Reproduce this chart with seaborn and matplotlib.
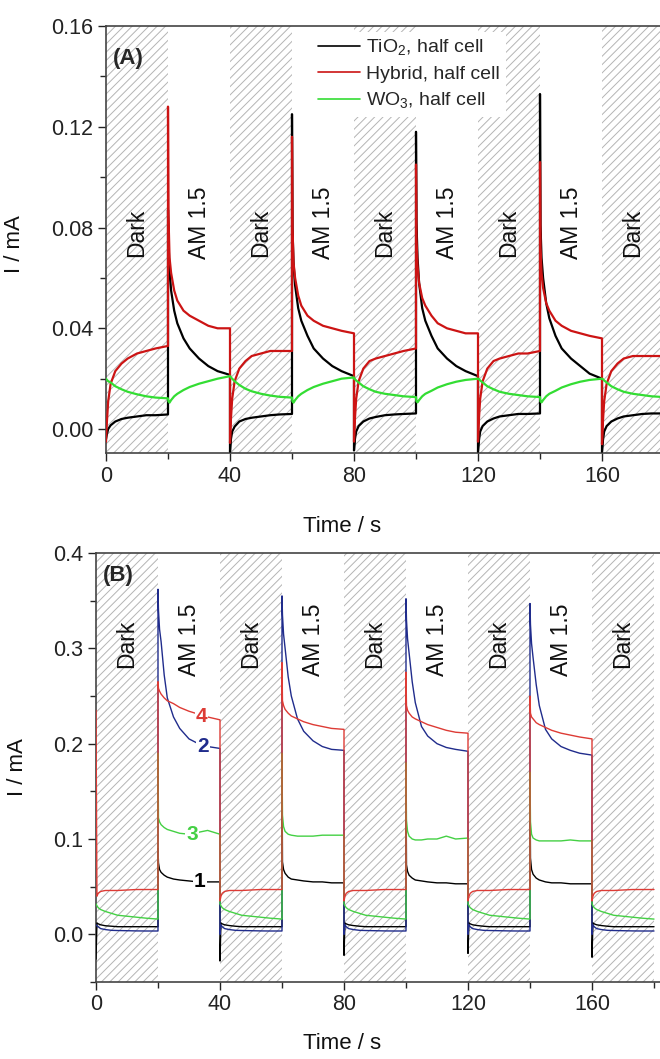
import matplotlib
matplotlib.use("Agg")
import numpy as np
import pandas as pd
import matplotlib.pyplot as plt
import seaborn as sns
from matplotlib.lines import Line2D
from matplotlib.ticker import MultipleLocator, FixedLocator, FormatStrFormatter

# ---------------- data ----------------
DARK_T = [0, 0.3, 0.7, 1.5, 3, 5, 7, 10, 13, 16, 20]          # offsets inside a dark period (s)
LIGHT_T = [0, 0.15, 0.5, 1, 2, 3, 5, 7, 10, 13, 16, 20]       # offsets inside an AM 1.5 period (s)
DARK_STARTS = [0, 40, 80, 120, 160]
LIGHT_STARTS = [20, 60, 100, 140]
PERIOD_LABELS = ["Dark", "AM 1.5", "Dark", "AM 1.5", "Dark", "AM 1.5", "Dark", "AM 1.5", "Dark"]
X_MAJOR = [0, 40, 80, 120, 160]
X_MINOR = [20, 60, 100, 140, 180]

# Panel A : TiO2 half cell (black)
A_TIO2_DARK = [
    [-0.004, -0.002, 0.000, 0.0015, 0.003, 0.004, 0.0045, 0.005, 0.0055, 0.0055, 0.0058],
    [-0.009, -0.004, -0.001, 0.001, 0.003, 0.004, 0.0045, 0.005, 0.0055, 0.0058, 0.006],
    [-0.0085, -0.004, -0.001, 0.0012, 0.003, 0.0042, 0.0048, 0.0055, 0.0058, 0.006, 0.0062],
    [-0.009, -0.0045, -0.001, 0.0012, 0.003, 0.0042, 0.005, 0.0055, 0.006, 0.006, 0.0062],
    [-0.009, -0.0045, -0.001, 0.0012, 0.003, 0.0042, 0.005, 0.0055, 0.006, 0.0062, 0.0062],
]
A_TIO2_LIGHT = [
    [0.087, 0.075, 0.063, 0.055, 0.047, 0.042, 0.036, 0.032, 0.028, 0.025, 0.023, 0.0215],
    [0.125, 0.080, 0.066, 0.057, 0.048, 0.043, 0.037, 0.032, 0.028, 0.025, 0.023, 0.021],
    [0.118, 0.082, 0.068, 0.058, 0.048, 0.043, 0.037, 0.032, 0.028, 0.025, 0.023, 0.021],
    [0.133, 0.081, 0.068, 0.060, 0.050, 0.044, 0.037, 0.032, 0.028, 0.025, 0.022, 0.020],
]
# Panel A : Hybrid half cell (red)
A_HYB_DARK = [
    [-0.005, 0.003, 0.011, 0.018, 0.023, 0.026, 0.028, 0.030, 0.031, 0.032, 0.033],
    [-0.0055, 0.004, 0.012, 0.019, 0.024, 0.027, 0.029, 0.030, 0.031, 0.031, 0.031],
    [-0.005, 0.004, 0.012, 0.019, 0.024, 0.027, 0.028, 0.029, 0.030, 0.031, 0.032],
    [-0.005, 0.004, 0.012, 0.019, 0.024, 0.027, 0.028, 0.029, 0.030, 0.030, 0.031],
    [-0.006, 0.003, 0.011, 0.018, 0.023, 0.026, 0.028, 0.029, 0.029, 0.029, 0.029],
]
A_HYB_LIGHT = [
    [0.128, 0.085, 0.068, 0.062, 0.055, 0.051, 0.047, 0.045, 0.043, 0.041, 0.040, 0.040],
    [0.116, 0.080, 0.066, 0.060, 0.053, 0.049, 0.045, 0.043, 0.041, 0.040, 0.039, 0.038],
    [0.105, 0.075, 0.065, 0.058, 0.052, 0.049, 0.045, 0.042, 0.040, 0.039, 0.038, 0.038],
    [0.106, 0.072, 0.062, 0.056, 0.050, 0.047, 0.043, 0.041, 0.039, 0.038, 0.037, 0.036],
]
# Panel A : WO3 half cell (green)
A_WO3_DARK = [
    [0.020, 0.0195, 0.019, 0.0185, 0.017, 0.0158, 0.0148, 0.0138, 0.013, 0.0125, 0.0122],
    [0.021, 0.0205, 0.020, 0.019, 0.0175, 0.016, 0.015, 0.014, 0.0133, 0.0128, 0.0125],
    [0.020, 0.0198, 0.0193, 0.0185, 0.017, 0.0158, 0.0148, 0.0140, 0.0135, 0.013, 0.0127],
    [0.020, 0.0198, 0.0193, 0.0185, 0.017, 0.0158, 0.0148, 0.0140, 0.0135, 0.013, 0.0127],
    [0.020, 0.0198, 0.0193, 0.0185, 0.017, 0.0158, 0.0148, 0.0140, 0.0135, 0.013, 0.0127],
]
A_WO3_LIGHT = [
    [0.0122, 0.011, 0.0105, 0.0115, 0.013, 0.014, 0.0155, 0.0167, 0.018, 0.019, 0.020, 0.021],
    [0.0125, 0.011, 0.0105, 0.0115, 0.013, 0.014, 0.0155, 0.0167, 0.018, 0.019, 0.020, 0.0205],
    [0.0127, 0.011, 0.0106, 0.0115, 0.013, 0.014, 0.0152, 0.0165, 0.0178, 0.0188, 0.0195, 0.020],
    [0.0127, 0.011, 0.0106, 0.0115, 0.013, 0.014, 0.0152, 0.0165, 0.0178, 0.0188, 0.0195, 0.020],
]

# Panel B : curve 1 (black)
B1_DARK = [
    [-0.026, 0.012, 0.011, 0.010, 0.009, 0.0085, 0.008, 0.008, 0.008, 0.008, 0.008],
    [-0.028, 0.012, 0.011, 0.010, 0.0092, 0.0085, 0.008, 0.008, 0.008, 0.008, 0.008],
    [-0.022, 0.012, 0.011, 0.010, 0.0092, 0.0085, 0.008, 0.008, 0.008, 0.008, 0.008],
    [-0.020, 0.012, 0.011, 0.010, 0.0092, 0.0085, 0.008, 0.008, 0.008, 0.008, 0.008],
    [-0.024, 0.012, 0.011, 0.010, 0.0092, 0.0085, 0.008, 0.008, 0.008, 0.008, 0.008],
]
B1_LIGHT = [
    [0.090, 0.075, 0.068, 0.065, 0.062, 0.060, 0.058, 0.057, 0.056, 0.055, 0.055, 0.055],
    [0.185, 0.076, 0.068, 0.064, 0.060, 0.058, 0.057, 0.056, 0.055, 0.055, 0.054, 0.054],
    [0.178, 0.073, 0.066, 0.062, 0.059, 0.057, 0.056, 0.055, 0.054, 0.054, 0.053, 0.053],
    [0.169, 0.080, 0.068, 0.063, 0.059, 0.057, 0.055, 0.054, 0.054, 0.053, 0.053, 0.053],
]
# Panel B : curve 2 (blue)
B2_DARK = [
    [0.010, 0.009, 0.008, 0.006, 0.005, 0.0042, 0.004, 0.0038, 0.0036, 0.0035, 0.0035],
    [0.000, 0.010, 0.008, 0.006, 0.005, 0.0042, 0.004, 0.0038, 0.0036, 0.0035, 0.0035],
    [0.000, 0.010, 0.008, 0.006, 0.005, 0.0042, 0.004, 0.0038, 0.0036, 0.0035, 0.0035],
    [0.000, 0.010, 0.008, 0.006, 0.005, 0.0042, 0.004, 0.0038, 0.0036, 0.0035, 0.0035],
    [0.000, 0.010, 0.008, 0.006, 0.005, 0.0042, 0.004, 0.0038, 0.0036, 0.0035, 0.0035],
]
B2_LIGHT = [
    [0.362, 0.340, 0.320, 0.307, 0.272, 0.248, 0.228, 0.216, 0.205, 0.200, 0.197, 0.195],
    [0.355, 0.335, 0.315, 0.300, 0.270, 0.250, 0.226, 0.213, 0.203, 0.197, 0.194, 0.193],
    [0.352, 0.330, 0.310, 0.295, 0.265, 0.243, 0.218, 0.208, 0.200, 0.196, 0.194, 0.192],
    [0.347, 0.325, 0.305, 0.290, 0.262, 0.240, 0.215, 0.205, 0.197, 0.193, 0.190, 0.188],
]
# Panel B : curve 3 (green)
B3_DARK = [
    [0.032, 0.030, 0.028, 0.026, 0.024, 0.022, 0.020, 0.019, 0.018, 0.017, 0.016],
    [0.032, 0.030, 0.028, 0.026, 0.024, 0.022, 0.020, 0.019, 0.018, 0.017, 0.016],
    [0.032, 0.030, 0.028, 0.026, 0.024, 0.022, 0.020, 0.019, 0.018, 0.017, 0.016],
    [0.032, 0.030, 0.028, 0.026, 0.024, 0.022, 0.020, 0.019, 0.018, 0.017, 0.016],
    [0.032, 0.030, 0.028, 0.026, 0.024, 0.022, 0.020, 0.019, 0.018, 0.017, 0.016],
]
B3_LIGHT = [
    [0.190, 0.122, 0.118, 0.115, 0.112, 0.110, 0.108, 0.106, 0.105, 0.107, 0.109, 0.105],
    [0.190, 0.125, 0.113, 0.108, 0.105, 0.104, 0.103, 0.103, 0.103, 0.104, 0.104, 0.104],
    [0.180, 0.120, 0.108, 0.103, 0.100, 0.099, 0.099, 0.100, 0.100, 0.103, 0.100, 0.101],
    [0.170, 0.118, 0.105, 0.101, 0.099, 0.098, 0.098, 0.098, 0.098, 0.099, 0.098, 0.098],
]
# Panel B : curve 4 (red)
B4_DARK = [
    [0.235, 0.040, 0.043, 0.045, 0.046, 0.046, 0.046, 0.0465, 0.047, 0.047, 0.047],
    [0.035, 0.040, 0.043, 0.045, 0.046, 0.046, 0.046, 0.0465, 0.047, 0.047, 0.047],
    [0.035, 0.040, 0.043, 0.045, 0.046, 0.046, 0.046, 0.0465, 0.047, 0.047, 0.047],
    [0.035, 0.040, 0.043, 0.045, 0.046, 0.046, 0.046, 0.0465, 0.047, 0.047, 0.047],
    [0.035, 0.040, 0.043, 0.045, 0.046, 0.046, 0.046, 0.0465, 0.047, 0.047, 0.047],
]
B4_LIGHT = [
    [0.265, 0.258, 0.255, 0.252, 0.248, 0.245, 0.242, 0.238, 0.234, 0.231, 0.228, 0.225],
    [0.285, 0.245, 0.240, 0.236, 0.232, 0.229, 0.226, 0.223, 0.220, 0.218, 0.216, 0.215],
    [0.275, 0.240, 0.235, 0.232, 0.228, 0.226, 0.223, 0.220, 0.217, 0.214, 0.212, 0.211],
    [0.250, 0.232, 0.228, 0.226, 0.222, 0.220, 0.217, 0.214, 0.211, 0.209, 0.207, 0.205],
]

A_NAMES = [r"TiO$_\mathregular{2}$, half cell", "Hybrid, half cell", r"WO$_\mathregular{3}$, half cell"]
A_COLORS = ["#000000", "#cc1414", "#33dd33"]
B_NAMES = ["1", "2", "3", "4"]
B_COLORS = ["#000000", "#202c8c", "#44d044", "#dd3b35"]
B_LABEL_POS = {"1": (33.5, 0.055), "2": (34.5, 0.197), "3": (31.0, 0.105), "4": (34.0, 0.229)}


def build(dark, light):
    t, v = [], []
    for k in range(len(DARK_STARTS) + len(LIGHT_STARTS)):
        if k % 2 == 0:
            start, offs, seg = DARK_STARTS[k // 2], DARK_T, dark[k // 2]
        else:
            start, offs, seg = LIGHT_STARTS[k // 2], LIGHT_T, light[k // 2]
        t += [start + o for o in offs]
        v += list(seg)
    return t, v


def frame(names, pairs):
    rows = []
    for name, (d, l) in zip(names, pairs):
        t, v = build(d, l)
        rows.append(pd.DataFrame({"t": t, "I": v, "series": name}))
    return pd.concat(rows, ignore_index=True)


dfA = frame(A_NAMES, [(A_TIO2_DARK, A_TIO2_LIGHT), (A_HYB_DARK, A_HYB_LIGHT), (A_WO3_DARK, A_WO3_LIGHT)])
dfB = frame(B_NAMES, [(B1_DARK, B1_LIGHT), (B2_DARK, B2_LIGHT), (B3_DARK, B3_LIGHT), (B4_DARK, B4_LIGHT)])

# ---------------- styling ----------------
sns.set_theme(style="ticks")
plt.rcParams["font.family"] = ["Liberation Sans", "DejaVu Sans"]
plt.rcParams["mathtext.fontset"] = "custom"
plt.rcParams["mathtext.rm"] = "Liberation Sans"
plt.rcParams["hatch.linewidth"] = 0.7

W, H = 660, 1059
fig = plt.figure(figsize=(W / 100, H / 100), dpi=100)
axA = fig.add_axes([106 / W, 1 - 453 / H, 620 / W, 427 / H])
axB = fig.add_axes([96 / W, 1 - 982 / H, 620 / W, 429 / H])


def decorate(ax, ylim, ymaj, ymin, fmt, text_y, label_xy, label):
    ax.set_xlim(0, 200)
    ax.set_ylim(*ylim)
    for s in DARK_STARTS:
        ax.axvspan(s, s + 20, facecolor="white", edgecolor="#b4b4b4", hatch="////", lw=0, zorder=0)
    for k, txt in enumerate(PERIOD_LABELS):
        ax.text(10 + 20 * k, text_y[txt], txt, rotation=90, ha="center", va="center",
                fontsize=16.5, color="#111111", zorder=5)
    ax.xaxis.set_major_locator(FixedLocator(X_MAJOR))
    ax.xaxis.set_minor_locator(FixedLocator(X_MINOR))
    ax.yaxis.set_major_locator(MultipleLocator(ymaj))
    ax.yaxis.set_minor_locator(MultipleLocator(ymin))
    ax.yaxis.set_major_formatter(FormatStrFormatter(fmt))
    ax.tick_params(axis="both", which="major", direction="out", length=6, width=1.0,
                   labelsize=15.5, colors="#222222", pad=3)
    ax.tick_params(axis="both", which="minor", direction="out", length=4, width=1.0)
    ax.tick_params(top=False, right=False)
    for side in ["left", "bottom", "top"]:
        ax.spines[side].set_color("#444444")
        ax.spines[side].set_linewidth(1.2)
    ax.spines["right"].set_visible(False)
    ax.set_xlabel("Time / s", fontsize=16, color="#111111")
    ax.set_ylabel("I / mA", fontsize=16, color="#111111")
    ax.text(label_xy[0], label_xy[1], label, fontsize=16, fontweight="bold", ha="left", va="center", zorder=6)


sns.lineplot(data=dfA, x="t", y="I", hue="series", hue_order=A_NAMES, palette=A_COLORS,
             estimator=None, sort=False, lw=1.6, legend=False, ax=axA, zorder=3)
decorate(axA, (-0.0095, 0.16), 0.04, 0.02, "%.2f", {"Dark": 0.078, "AM 1.5": 0.082}, (2.3, 0.147), "(A)")
axA.xaxis.set_label_coords((342 - 106) / 620, -0.148)
axA.yaxis.set_label_coords(-0.13, 0.49)

handles = [Line2D([0], [0], color=c, lw=1.2) for c in A_COLORS]
leg = axA.legend(handles, A_NAMES, loc="upper left", bbox_to_anchor=(0.332, 0.987), frameon=True,
                 fancybox=False, framealpha=1, facecolor="white", edgecolor="none", fontsize=14,
                 handlelength=2.2, handletextpad=0.3, labelspacing=0.4, borderpad=0.3, borderaxespad=0)
leg.set_zorder(10)

sns.lineplot(data=dfB, x="t", y="I", hue="series", hue_order=B_NAMES, palette=B_COLORS,
             estimator=None, sort=False, lw=1.0, legend=False, ax=axB, zorder=3)
decorate(axB, (-0.05, 0.4), 0.1, 0.05, "%.1f", {"Dark": 0.305, "AM 1.5": 0.309}, (2.3, 0.376), "(B)")
axB.xaxis.set_label_coords((342 - 96) / 620, -0.118)
axB.yaxis.set_label_coords(-0.11, 0.5)

for name, col in zip(B_NAMES, B_COLORS):
    x, y = B_LABEL_POS[name]
    axB.text(x, y, name, color=col, fontsize=15, fontweight="bold", ha="center", va="center", zorder=6,
             bbox=dict(facecolor="white", edgecolor="none", pad=0.6))

fig.savefig("out.png", dpi=100)
